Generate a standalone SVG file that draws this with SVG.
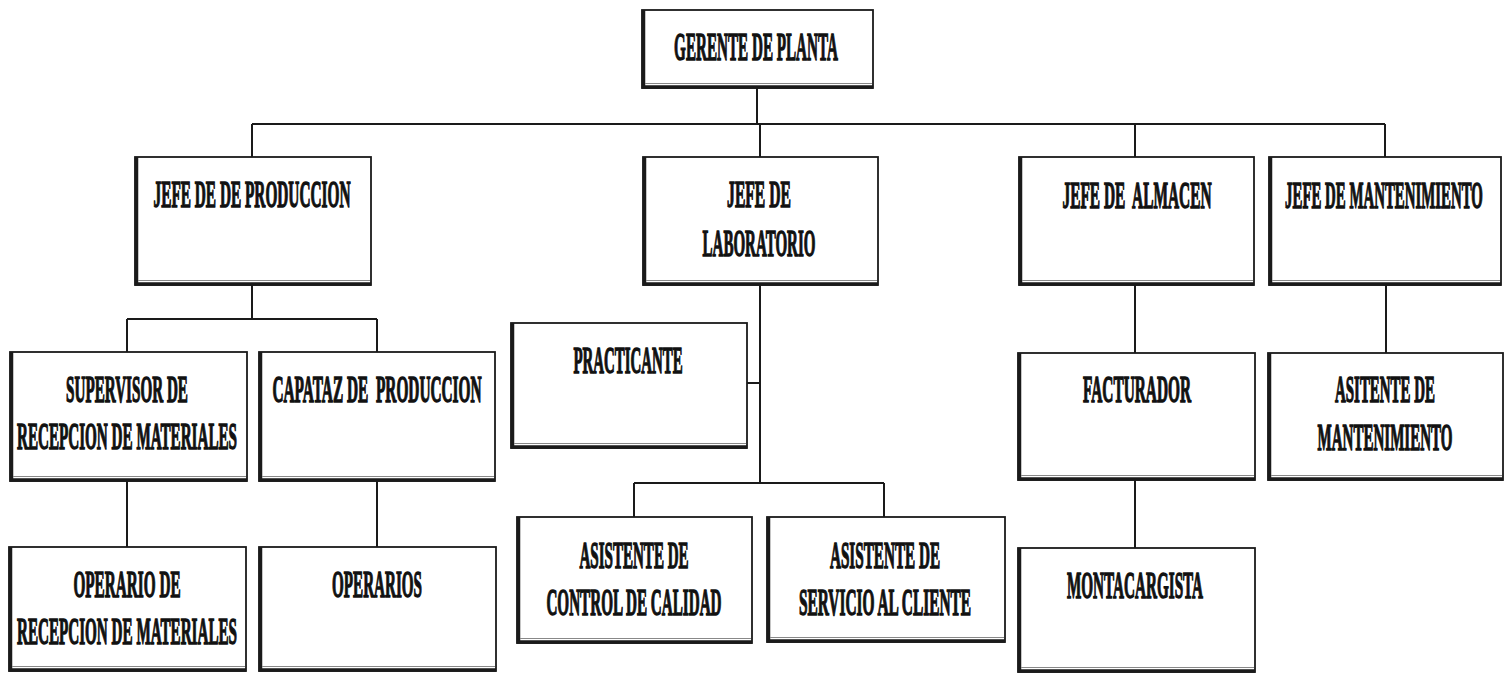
<svg xmlns="http://www.w3.org/2000/svg" width="1504" height="675" viewBox="0 0 1504 675">
<style>
.bg{fill:#fff}
.box{fill:#fff;stroke:#1a1a1a;stroke-width:1.8}
.sh{fill:none;stroke:#1a1a1a;stroke-width:3.5;stroke-linejoin:miter}
.sh2{fill:none;stroke:#888;stroke-width:1}
.ln{fill:none;stroke:#1a1a1a;stroke-width:2}
text{font-family:"Liberation Serif","Times New Roman",serif;font-weight:bold;font-size:37px;fill:#111;stroke:#111;stroke-width:1.4;text-anchor:middle}
.big{font-size:41px}
</style>
<rect class="bg" x="0" y="0" width="1504" height="675"/>
<g id="connectors">
<path class="ln" d="M757,88 V124 M252,124 H1385 M252,124 V157 M760,124 V157 M1135,124 V157 M1385,124 V157"/>
<path class="ln" d="M252,285 V319 M127,319 H377 M127,319 V352 M377,319 V352 M127,481 V547 M377,481 V547"/>
<path class="ln" d="M760,285 V483 M747,383 H760 M634,483 H884 M634,483 V517 M884,483 V517"/>
<path class="ln" d="M1135,285 V353 M1135,480 V548 M1386,285 V353"/>
</g>
<g id="gerente">
<rect class="box" x="642" y="10" width="231" height="78"/>
<path class="sh" d="M643.5,10 V87 H873"/><path class="sh2" d="M645,83.5 H872"/>
<text class="big" transform="matrix(0.42 0 0 1 756 60)" textLength="390" lengthAdjust="spacingAndGlyphs">GERENTE DE PLANTA</text>
</g>
<g id="jefe-produccion">
<rect class="box" x="135" y="157" width="236" height="128"/>
<path class="sh" d="M136.5,157 V284 H371"/><path class="sh2" d="M138,280.5 H370"/>
<text transform="matrix(0.42 0 0 1 252 207)" textLength="469" lengthAdjust="spacingAndGlyphs">JEFE DE DE PRODUCCION</text>
</g>
<g id="jefe-laboratorio">
<rect class="box" x="643" y="157" width="235" height="128"/>
<path class="sh" d="M644.5,157 V284 H878"/><path class="sh2" d="M646,280.5 H877"/>
<text transform="matrix(0.42 0 0 1 759 207)" textLength="152" lengthAdjust="spacingAndGlyphs">JEFE DE</text>
<text transform="matrix(0.42 0 0 1 759 256)" textLength="269" lengthAdjust="spacingAndGlyphs">LABORATORIO</text>
</g>
<g id="jefe-almacen">
<rect class="box" x="1019" y="157" width="235" height="128"/>
<path class="sh" d="M1020.5,157 V284 H1254"/><path class="sh2" d="M1022,280.5 H1253"/>
<text transform="matrix(0.42 0 0 1 1137 208)" textLength="355" lengthAdjust="spacingAndGlyphs">JEFE DE&#160; ALMACEN</text>
</g>
<g id="jefe-mantenimiento">
<rect class="box" x="1269" y="157" width="232" height="128"/>
<path class="sh" d="M1270.5,157 V284 H1501"/><path class="sh2" d="M1272,280.5 H1500"/>
<text transform="matrix(0.42 0 0 1 1384 208)" textLength="471" lengthAdjust="spacingAndGlyphs">JEFE DE MANTENIMIENTO</text>
</g>
<g id="supervisor">
<rect class="box" x="10" y="352" width="237" height="129"/>
<path class="sh" d="M11.5,352 V480 H247"/><path class="sh2" d="M13,476.5 H246"/>
<text transform="matrix(0.42 0 0 1 127 402)" textLength="290" lengthAdjust="spacingAndGlyphs">SUPERVISOR DE</text>
<text transform="matrix(0.42 0 0 1 127 449)" textLength="524" lengthAdjust="spacingAndGlyphs">RECEPCION DE MATERIALES</text>
</g>
<g id="capataz">
<rect class="box" x="259" y="352" width="236" height="129"/>
<path class="sh" d="M260.5,352 V480 H495"/><path class="sh2" d="M262,476.5 H494"/>
<text transform="matrix(0.42 0 0 1 377 402)" textLength="498" lengthAdjust="spacingAndGlyphs">CAPATAZ DE&#160; PRODUCCION</text>
</g>
<g id="operario-recepcion">
<rect class="box" x="9" y="547" width="237" height="124"/>
<path class="sh" d="M10.5,547 V670 H246"/><path class="sh2" d="M12,666.5 H245"/>
<text transform="matrix(0.42 0 0 1 127 597)" textLength="255" lengthAdjust="spacingAndGlyphs">OPERARIO DE</text>
<text transform="matrix(0.42 0 0 1 127 644)" textLength="524" lengthAdjust="spacingAndGlyphs">RECEPCION DE MATERIALES</text>
</g>
<g id="operarios">
<rect class="box" x="259" y="547" width="237" height="124"/>
<path class="sh" d="M260.5,547 V670 H496"/><path class="sh2" d="M262,666.5 H495"/>
<text transform="matrix(0.42 0 0 1 377 597)" textLength="214" lengthAdjust="spacingAndGlyphs">OPERARIOS</text>
</g>
<g id="practicante">
<rect class="box" x="511" y="323" width="236" height="125"/>
<path class="sh" d="M512.5,323 V447 H747"/><path class="sh2" d="M514,443.5 H746"/>
<text transform="matrix(0.42 0 0 1 628 373)" textLength="260" lengthAdjust="spacingAndGlyphs">PRACTICANTE</text>
</g>
<g id="asistente-calidad">
<rect class="box" x="517" y="517" width="235" height="126"/>
<path class="sh" d="M518.5,517 V642 H752"/><path class="sh2" d="M520,638.5 H751"/>
<text transform="matrix(0.42 0 0 1 634 568)" textLength="260" lengthAdjust="spacingAndGlyphs">ASISTENTE DE</text>
<text transform="matrix(0.42 0 0 1 634 615)" textLength="417" lengthAdjust="spacingAndGlyphs">CONTROL DE CALIDAD</text>
</g>
<g id="asistente-cliente">
<rect class="box" x="767" y="517" width="238" height="125"/>
<path class="sh" d="M768.5,517 V641 H1005"/><path class="sh2" d="M770,637.5 H1004"/>
<text transform="matrix(0.42 0 0 1 885 568)" textLength="262" lengthAdjust="spacingAndGlyphs">ASISTENTE DE</text>
<text transform="matrix(0.42 0 0 1 885 615)" textLength="410" lengthAdjust="spacingAndGlyphs">SERVICIO AL CLIENTE</text>
</g>
<g id="facturador">
<rect class="box" x="1018" y="353" width="237" height="127"/>
<path class="sh" d="M1019.5,353 V479 H1255"/><path class="sh2" d="M1021,475.5 H1254"/>
<text transform="matrix(0.42 0 0 1 1137 402)" textLength="257" lengthAdjust="spacingAndGlyphs">FACTURADOR</text>
</g>
<g id="asistente-mantenimiento">
<rect class="box" x="1268" y="353" width="235" height="127"/>
<path class="sh" d="M1269.5,353 V479 H1503"/><path class="sh2" d="M1271,475.5 H1502"/>
<text transform="matrix(0.42 0 0 1 1385 402)" textLength="238" lengthAdjust="spacingAndGlyphs">ASITENTE DE</text>
<text transform="matrix(0.42 0 0 1 1385 450)" textLength="321" lengthAdjust="spacingAndGlyphs">MANTENIMIENTO</text>
</g>
<g id="montacargista">
<rect class="box" x="1018" y="548" width="237" height="124"/>
<path class="sh" d="M1019.5,548 V671 H1255"/><path class="sh2" d="M1021,667.5 H1254"/>
<text transform="matrix(0.42 0 0 1 1135 598)" textLength="324" lengthAdjust="spacingAndGlyphs">MONTACARGISTA</text>
</g>
</svg>
